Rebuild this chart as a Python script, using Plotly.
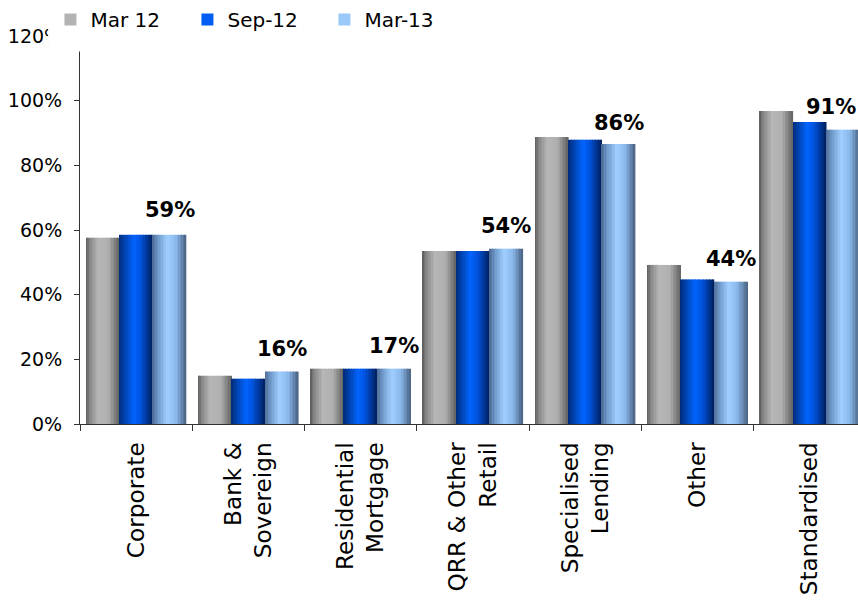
import plotly.graph_objects as go

# Categories (tick labels carry their own line breaks)
categories = [
    "Corporate",
    "Bank &<br>Sovereign",
    "Residential<br>Mortgage",
    "QRR & Other<br>Retail",
    "Specialised<br>Lending",
    "Other",
    "Standardised",
]

series_names = ["Mar 12", "Sep-12", "Mar-13"]
mar12 = [57.6, 14.9, 17.1, 53.5, 88.8, 49.2, 96.8]
sep12 = [58.5, 14.0, 17.1, 53.5, 87.9, 44.7, 93.4]
mar13 = [58.5, 16.2, 17.1, 54.2, 86.6, 44.0, 91.0]
label_values = [59, 16, 17, 54, 86, 44, 91]

y_ticks = [0, 20, 40, 60, 80, 100, 120]
y_tick_text = ["0%", "20%", "40%", "60%", "80%", "100%", "120%"]

# Cylinder-like shading: colour stops across each bar's width
shading = [
    [(0.0, "#5a5a5a"), (0.12, "#868686"), (0.38, "#b6b6b6"), (0.68, "#b0b0b0"), (1.0, "#626262")],
    [(0.0, "#002a78"), (0.2, "#0046b8"), (0.45, "#0064ff"), (0.65, "#0052dc"), (1.0, "#00205e")],
    [(0.0, "#4c6a94"), (0.18, "#6f9acc"), (0.45, "#a0d0ff"), (0.72, "#88b6ea"), (1.0, "#4a6282")],
]


def hex_to_rgb(h):
    h = h.lstrip("#")
    return tuple(int(h[i:i + 2], 16) for i in (0, 2, 4))


def sample(stops, t):
    for (t0, c0), (t1, c1) in zip(stops[:-1], stops[1:]):
        if t0 <= t <= t1:
            f = 0 if t1 == t0 else (t - t0) / (t1 - t0)
            a, b = hex_to_rgb(c0), hex_to_rgb(c1)
            r = [round(a[k] + (b[k] - a[k]) * f) for k in range(3)]
            return "rgb({},{},{})".format(*r)
    return stops[-1][1]


bar_w = 0.2975            # width of one bar in category units
group_left = -1.5 * bar_w  # left edge of the first bar in a group
n_strips = 22
strip_w = bar_w / n_strips

fig = go.Figure()
for s, (name, vals) in enumerate(zip(series_names, [mar12, sep12, mar13])):
    for k in range(n_strips):
        t = (k + 0.5) / n_strips
        mid = k == n_strips // 2
        fig.add_trace(go.Bar(
            x=categories,
            y=vals,
            name=name,
            legendgroup=name,
            showlegend=mid,
            offset=group_left + s * bar_w + k * strip_w,
            width=strip_w * 1.06,
            marker=dict(color=sample(shading[s], t), line=dict(width=0)),
            hovertemplate=name + ": %{y:.1f}%<extra></extra>",
        ))

x_range = [-0.5, 6.43]

# Bold value labels above the Mar-13 bars
for i, v in enumerate(label_values):
    last = i == len(label_values) - 1
    fig.add_annotation(
        x=x_range[1] if last else i + bar_w,
        y=v,
        xref="x", yref="y",
        text="<b>{}%</b>".format(v),
        showarrow=False,
        xanchor="right" if last else "center",
        yanchor="middle",
        yshift=23,
        font=dict(family="DejaVu Sans", size=21, color="#000000"),
    )

# Legend placement (paper coordinates) and the white panel behind it,
# which hides the top of the value axis
legend_x, legend_y = -0.038, 1.093
fig.add_shape(
    type="rect", xref="paper", yref="paper",
    x0=-0.041, x1=0.49, y0=0.96, y1=1.1,
    fillcolor="white", line=dict(width=0), layer="above",
)

fig.update_layout(
    width=858, height=601,
    margin=dict(l=80, r=0, t=36, b=177, autoexpand=False),
    paper_bgcolor="white",
    plot_bgcolor="white",
    barmode="overlay",
    font=dict(family="DejaVu Sans", size=19, color="#000000"),
    showlegend=True,
    legend=dict(
        orientation="h",
        x=legend_x, y=legend_y,
        xanchor="left", yanchor="top",
        bgcolor="white",
        font=dict(size=20),
        entrywidth=92,
        traceorder="normal",
        itemclick=False,
    ),
    xaxis=dict(
        type="category",
        range=x_range,
        tickangle=-90,
        ticks="outside",
        tickson="boundaries",
        ticklen=6,
        tickcolor="#333333",
        showline=True,
        linecolor="#333333",
        linewidth=1,
        showgrid=False,
        zeroline=False,
        ticklabelstandoff=8,
        tickfont=dict(size=23.2),
        automargin=False,
    ),
    yaxis=dict(
        range=[0, 120],
        tickvals=y_ticks,
        ticktext=y_tick_text,
        ticks="outside",
        ticklen=5,
        tickcolor="#333333",
        showline=True,
        linecolor="#333333",
        linewidth=1,
        showgrid=False,
        zeroline=False,
        ticklabelstandoff=8,
        tickfont=dict(size=19),
        automargin=False,
    ),
)

fig.write_html("out.html")
